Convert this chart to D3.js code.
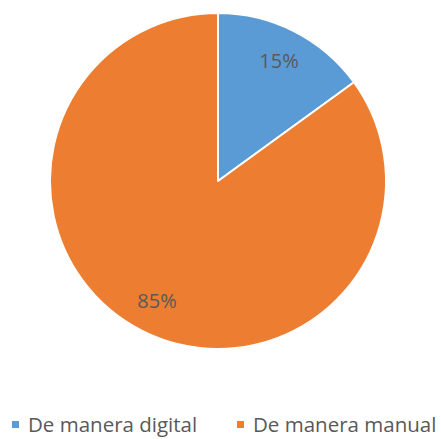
<!DOCTYPE html>
<html>
<head>
<meta charset="utf-8">
<script src="https://cdn.jsdelivr.net/npm/d3@7"></script>
<style>
  body { margin: 0; background: #fff; }
</style>
</head>
<body>
<div id="wrapper"></div>
<script>
const categories = ["De manera digital", "De manera manual"]
const values = [15, 85]
const colors = ["#5B9BD5", "#ED7D31"]

const dms = {
  width: 441,
  height: 439,
  cx: 218,
  cy: 181,
  radius: 168,
}

const svg = d3.select("#wrapper")
  .append("svg")
  .attr("width", dms.width)
  .attr("height", dms.height)

const pie = d3.pie().sort(null).value(d => d)
const arcs = pie(values)

const arc = d3.arc().innerRadius(0).outerRadius(dms.radius)
const labelArc = d3.arc().innerRadius(dms.radius * 0.8).outerRadius(dms.radius * 0.8)

const color = d3.scaleOrdinal().domain(categories).range(colors)

const g = svg.append("g")
  .attr("transform", `translate(${dms.cx},${dms.cy})`)

g.selectAll("path")
  .data(arcs)
  .join("path")
  .attr("d", arc)
  .attr("fill", (d, i) => color(categories[i]))
  .attr("stroke", "#fff")
  .attr("stroke-width", 2)
  .attr("stroke-linejoin", "round")

g.selectAll(".lbl")
  .data(arcs)
  .join("text")
  .attr("class", "lbl")
  .attr("transform", d => `translate(${labelArc.centroid(d)})`)
  .attr("text-anchor", "middle")
  .attr("dy", "0.35em")
  .attr("font-family", "Open Sans, sans-serif")
  .attr("font-size", 20)
  .attr("fill", "#595959")
  .text(d => d.data + "%")

// legend
const legendX = d3.scalePoint().domain(categories).range([12, 237])
const legend = svg.append("g").attr("transform", "translate(0,424)")

const item = legend.selectAll("g")
  .data(categories)
  .join("g")
  .attr("transform", d => `translate(${legendX(d)},0)`)

item.append("rect")
  .attr("x", 0)
  .attr("y", -3)
  .attr("width", 7)
  .attr("height", 7)
  .attr("fill", d => color(d))

item.append("text")
  .attr("x", 16)
  .attr("y", 8)
  .attr("font-family", "Open Sans, sans-serif")
  .attr("font-size", 20.5)
  .attr("fill", "#595959")
  .text(d => d)
</script>
</body>
</html>
